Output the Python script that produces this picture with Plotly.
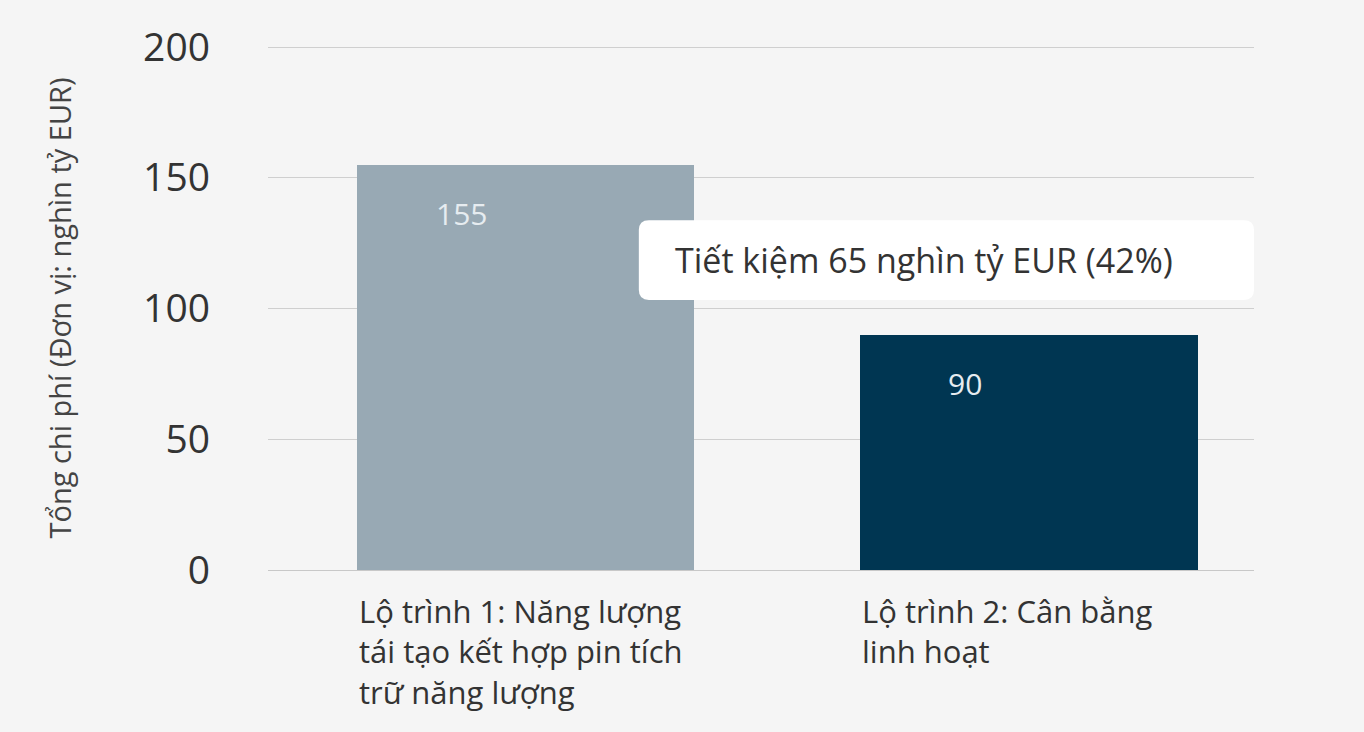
import plotly.graph_objects as go

# du lieu
categories = ["Lộ trình 1: Năng lượng<br>tái tạo kết hợp pin tích<br>trữ năng lượng",
              "Lộ trình 2: Cân bằng<br>linh hoạt"]
values = [155, 90]
bar_colors = ["#98a9b4", "#003652"]
y_ticks = [0, 50, 100, 150, 200]

x_pos = list(range(len(values)))
bar_w = 0.67
saving = values[0] - values[1]
saving_pct = round(saving / values[0] * 100)
saving_text = f"Tiết kiệm {saving} nghìn tỷ EUR ({saving_pct}%)"

FONT = "Open Sans, Noto Sans, sans-serif"
BG = "#f5f5f5"

fig = go.Figure()
fig.add_trace(go.Bar(
    x=x_pos,
    y=values,
    width=bar_w,
    marker=dict(color=bar_colors, line=dict(width=0)),
    hoverinfo="skip",
))

# nhan gia tri trong cot
for i, v in enumerate(values):
    fig.add_annotation(x=i - bar_w / 2 + 0.208, y=v, yshift=-49, text=str(v),
                       showarrow=False, xanchor="center", yanchor="middle",
                       font=dict(family=FONT, size=30, color="#e6ecf0"))

# nhan danh muc, can trai theo cot
for i, c in enumerate(categories):
    fig.add_annotation(x=i - bar_w / 2, y=0, yshift=-18, text=c, align="left",
                       showarrow=False, xanchor="left", yanchor="top",
                       font=dict(family=FONT, size=31, color="#333333"))

# hop tiet kiem (bo goc)
x0, x1, y0, y1 = 0.2254, 1.447, 103.3, 133.8
rx, ry = 0.02, 3.8
path = (f"M {x0+rx},{y0} L {x1-rx},{y0} Q {x1},{y0} {x1},{y0+ry} "
        f"L {x1},{y1-ry} Q {x1},{y1} {x1-rx},{y1} L {x0+rx},{y1} "
        f"Q {x0},{y1} {x0},{y1-ry} L {x0},{y0+ry} Q {x0},{y0} {x0+rx},{y0} Z")
fig.add_shape(type="path", path=path, xref="x", yref="y",
              fillcolor="white", line=dict(width=0), layer="above")
fig.add_annotation(x=x0 + 0.067, y=(y0 + y1) / 2, text=saving_text,
                   showarrow=False, xanchor="left", yanchor="middle",
                   font=dict(family=FONT, size=34, color="#333333"))

fig.update_layout(
    width=1364, height=732,
    paper_bgcolor=BG, plot_bgcolor=BG,
    margin=dict(l=268, r=110, t=46, b=162),
    showlegend=False,
    bargap=0,
    xaxis=dict(range=[-0.511, 1.447], showticklabels=False, showgrid=False,
               zeroline=False, showline=False, fixedrange=True),
    yaxis=dict(range=[0, 200.4], tickvals=y_ticks, showgrid=True,
               gridcolor="#cfcfcf", gridwidth=1, zeroline=True,
               zerolinecolor="#c8c8c8", zerolinewidth=1, showline=False,
               ticks="", ticklabelstandoff=57, fixedrange=True,
               tickfont=dict(family=FONT, size=39, color="#333333"),
               title=dict(text="Tổng chi phí (Đơn vị: nghìn tỷ EUR)", standoff=62,
                          font=dict(family=FONT, size=29, color="#444444"))),
)

# bo le trang cua trang
fig.write_html("out.html", config={"displayModeBar": False},
               post_script=f"document.body.style.margin='0';document.body.style.background='{BG}';")
